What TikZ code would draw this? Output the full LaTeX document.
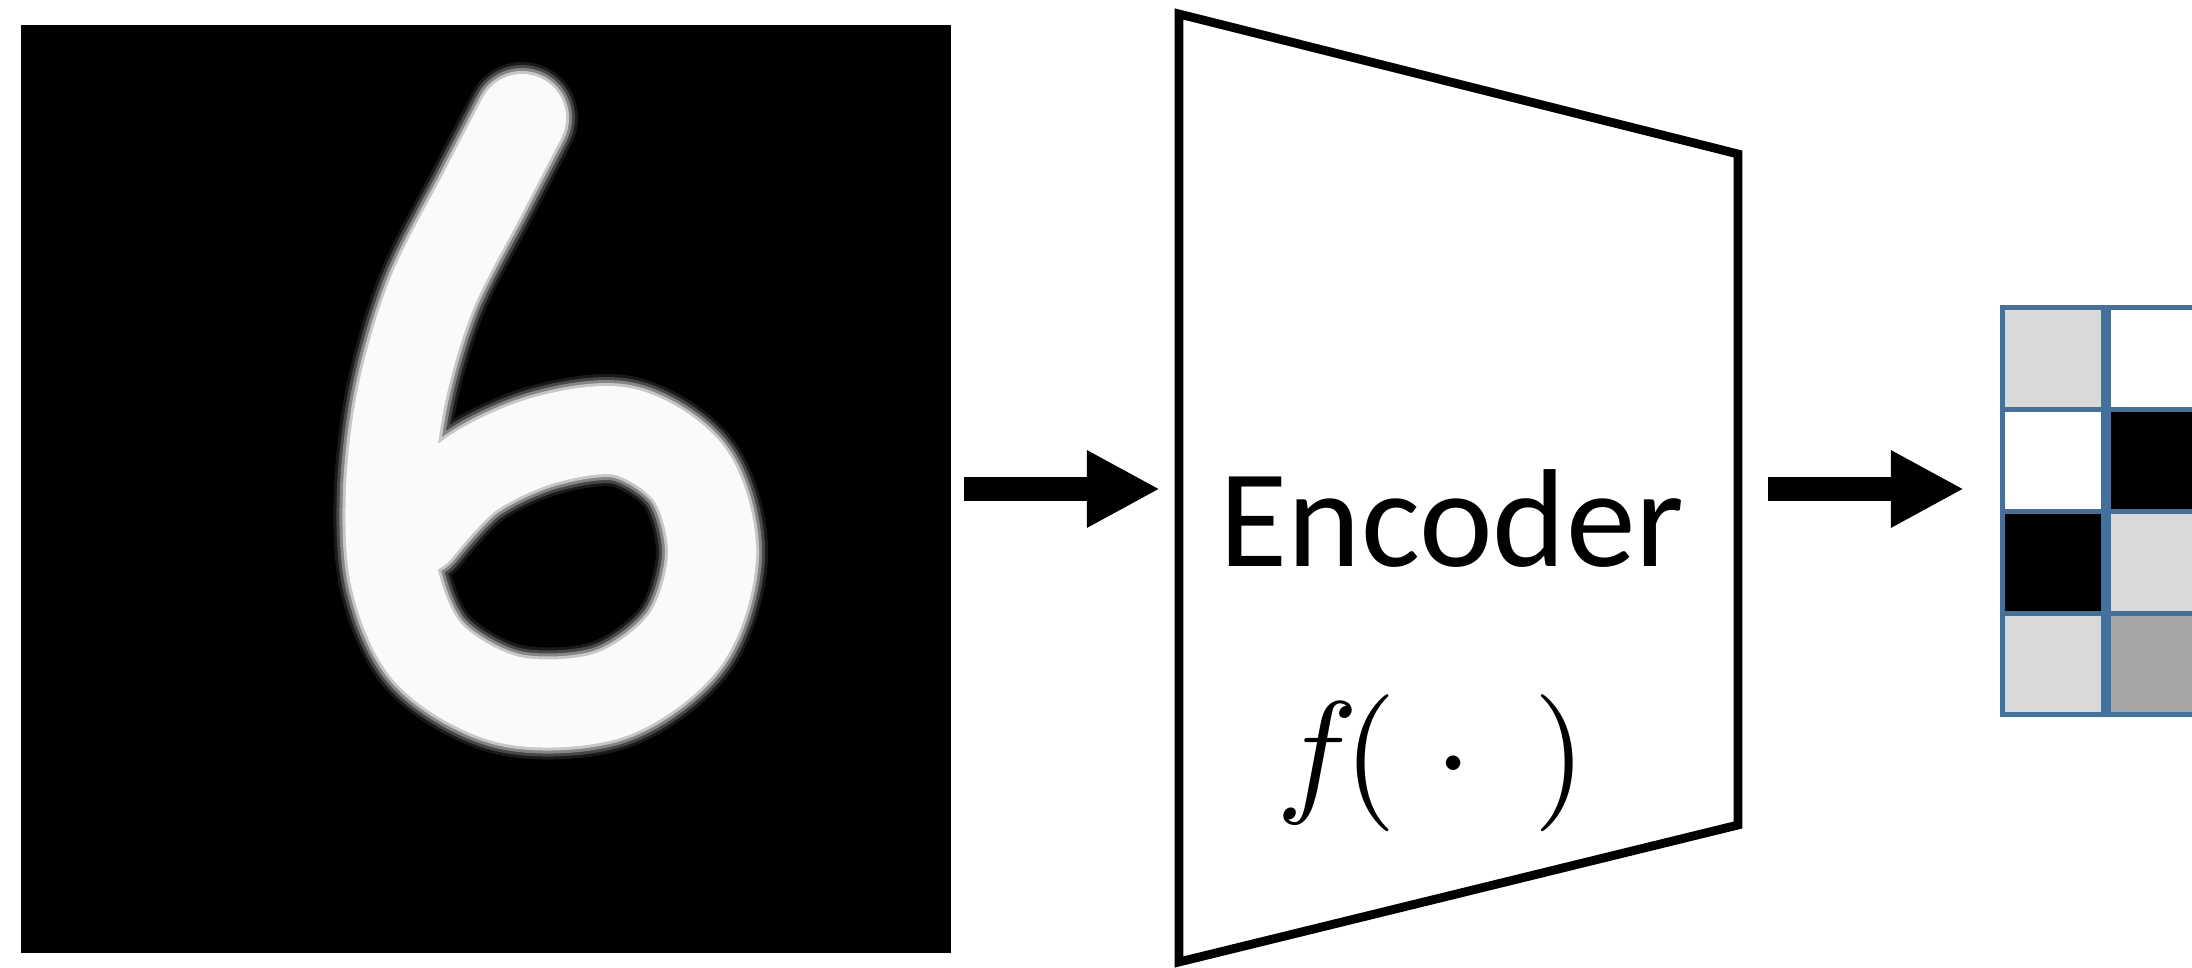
\documentclass[tikz,border=0pt]{standalone}
\usepackage{graphicx}
\usepackage{fontspec}
\newfontfamily\encfont{Carlito}
\usetikzlibrary{arrows.meta,positioning}
\definecolor{gridblue}{RGB}{65,113,156}
\definecolor{cellgray}{RGB}{217,217,217}
\definecolor{cellmid}{RGB}{166,166,166}
\tikzset{
  >={Triangle[length=7.3mm,width=7.2mm]},
  flow/.style={->,line width=6.8pt,draw=black},
  picture/.style={fill=black,minimum width=9.3cm,minimum height=9.28cm,inner sep=0pt},
  cell/.style={draw=gridblue,line width=1.4pt,fill=#1,minimum size=1.017cm,inner sep=0pt},
  cell/.default=white,
  pen/.style={line width=#1,line cap=round,line join=round},
  label/.style={inner sep=0pt,anchor=base},
}

\begin{document}
\begin{tikzpicture}[x=0.01cm,y=-0.01cm]
  \clip (0,0) rectangle (2192,968);
  \fill[white] (0,0) rectangle (2192,968);
  % input digit
  \node[picture] (digit) at (486,489) {};
  \foreach \pw/\tone in {1.12cm/10,1.06cm/28,1.0cm/52,0.94cm/78,0.88cm/98}
    \draw[white!\tone!black,pen=\pw] plot[smooth,tension=0.55] coordinates {
      (522,118) (483,193) (432,293) (402,393) (390,490) (395,580) (430,655)
      (510,700) (610,695) (685,640) (712,555) (690,475) (625,432) (545,440)
      (470,475) (418,530)};
  % encoder
  \coordinate (encNW) at (1179,14);
  \coordinate (encSW) at (1179,962);
  \coordinate (encNE) at (1738,154);
  \coordinate (encSE) at (1738,825);
  \coordinate (encIn) at (1179,489);
  \coordinate (encOut) at (1738,489);
  \draw[line width=2.5pt,line join=miter] (encNW) -- (encNE) -- (encSE) -- (encSW) -- cycle;
  \node[label,font=\encfont\fontsize{39.7}{48}\selectfont] (enc) at (1452,567) {Encoder};
  \node[label] (func) at (1432,798) {\scalebox{3.9}{$f\mkern-2mu(\mkern5mu\cdot\mkern8mu)$}};
  % latent code
  \foreach \a/\b [count=\r] in {cellgray/white,white/black,black/cellgray,cellgray/cellmid}{
    \node[cell=\a] (c-\r-1) at (2053,{308+101.7*(\r-0.5)}) {};
    \node[cell=\b,right=0pt of c-\r-1] (c-\r-2) {};
  }
  \coordinate (gridW) at (2002,489);
  \draw[flow] ([xshift=0.12cm]digit.east) -- ([xshift=-0.19cm]encIn);
  \draw[flow] ([xshift=0.30cm]encOut) -- ([xshift=-0.38cm]gridW);
\end{tikzpicture}
\end{document}
